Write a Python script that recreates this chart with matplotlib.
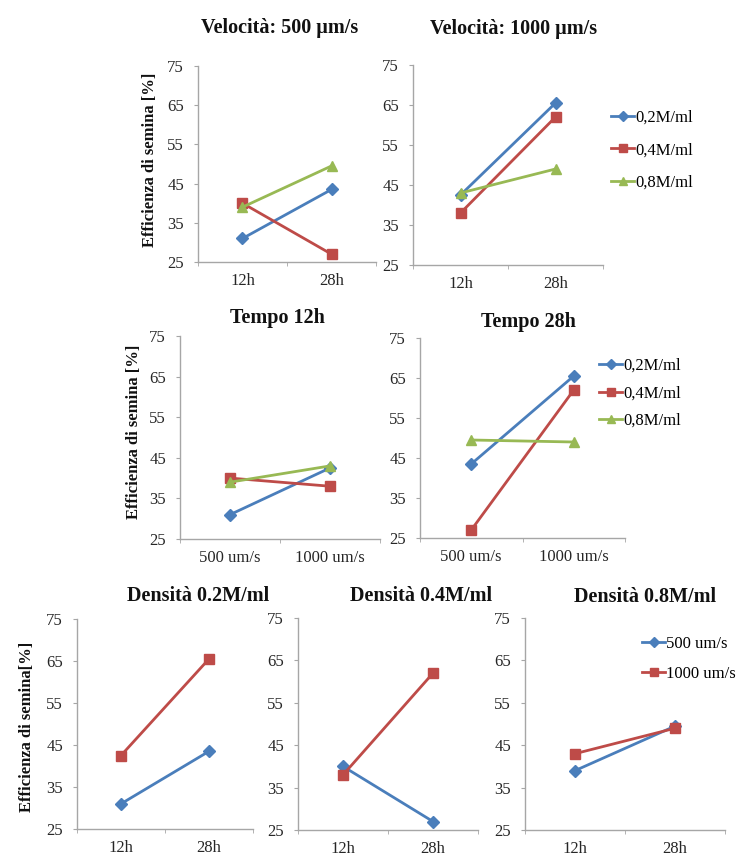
import matplotlib
matplotlib.use("Agg")
import matplotlib.pyplot as plt

# ---- data (Efficienza di semina [%]) ----
times = ["12h", "28h"]
speeds = ["500 um/s", "1000 um/s"]
densities = ["0,2M/ml", "0,4M/ml", "0,8M/ml"]

# speed 500 um/s : values at 12h, 28h for each density
v500_d02 = [31.0, 43.5]
v500_d04 = [40.0, 27.0]
v500_d08 = [39.0, 49.5]
# speed 1000 um/s
v1000_d02 = [42.5, 65.5]
v1000_d04 = [38.0, 62.0]
v1000_d08 = [43.0, 49.0]

W, H = 752, 861
plt.rcParams['font.family'] = ['Liberation Serif', 'DejaVu Serif']

fig = plt.figure(figsize=(W / 100, H / 100), dpi=100)
fig.patch.set_facecolor('white')

COLORS = ['#4a7ebb', '#be4b48', '#98b954']
MARKERS = ['D', 's', '^']
MSIZE = [6, 7, 7.5]
AXC = '#a6a6a6'
TXT = '#262626'
TICKFS = 12
TITLEFS = 14.5
LABFS = 12


def make_ax(x0, x1, y75, y25):
    ax = fig.add_axes([x0 / W, 1 - y25 / H, (x1 - x0) / W, (y25 - y75) / H])
    ax.set_xlim(-0.5, 1.5)
    ax.set_ylim(25, 75)
    ax.set_yticks([25, 35, 45, 55, 65, 75])
    ax.set_xticks([0, 1])
    ax.set_xticks([-0.5, 0.5, 1.5], minor=True)
    for s in ['top', 'right']:
        ax.spines[s].set_visible(False)
    for s in ['left', 'bottom']:
        ax.spines[s].set_color(AXC)
        ax.spines[s].set_linewidth(1.0)
    ax.tick_params(axis='y', length=3, color=AXC, labelsize=TICKFS, pad=7,
                   labelcolor=TXT)
    ax.tick_params(axis='x', which='major', length=0, labelsize=TICKFS, pad=8,
                   labelcolor=TXT)
    ax.tick_params(axis='x', which='minor', length=3, color=AXC)
    ax._px = (x0, x1, y75, y25)
    return ax


def plot_series(ax, series, labels, idxs):
    for vals, lab, i in zip(series, labels, idxs):
        ax.plot([0, 1], vals, color=COLORS[i], lw=2, marker=MARKERS[i],
                ms=MSIZE[i], label=lab)


def title(text, xc, yc):
    fig.text(xc / W, 1 - yc / H, text, ha='center', va='center',
             fontsize=TITLEFS, fontweight='bold', color='#111111')


def ylab(ax, text, xc, yc):
    x0, x1, y75, y25 = ax._px
    ax.set_ylabel(text, fontweight='bold', fontsize=LABFS, color='#111111')
    ax.yaxis.label.set_verticalalignment('center')
    ax.yaxis.set_label_coords((xc - x0) / (x1 - x0), (y25 - yc) / (y25 - y75))


def legend(ax, x, y, spacing):
    ax.legend(loc='upper left', bbox_to_anchor=(x / W, 1 - y / H),
              bbox_transform=fig.transFigure, frameon=False, fontsize=LABFS,
              handlelength=1.4, handletextpad=0.05, labelspacing=spacing,
              borderpad=0, borderaxespad=0, markerscale=0.8)


ylabel = "Efficienza di semina [%]"

# ---- row 1: by speed ----
ax1 = make_ax(198, 376, 66, 262)
plot_series(ax1, [v500_d02, v500_d04, v500_d08], densities, [0, 1, 2])
ax1.set_xticklabels(times)
title("Velocità: 500 µm/s", 280, 28)
ylab(ax1, ylabel, 150, 160)

ax2 = make_ax(413, 603, 65, 265)
plot_series(ax2, [v1000_d02, v1000_d04, v1000_d08], densities, [0, 1, 2])
ax2.set_xticklabels(times)
title("Velocità: 1000 µm/s", 514, 29)
legend(ax2, 611, 110, 0.97)

# ---- row 2: by time ----
ax3 = make_ax(180, 380, 336, 539)
plot_series(ax3, [[v500_d02[0], v1000_d02[0]], [v500_d04[0], v1000_d04[0]],
                  [v500_d08[0], v1000_d08[0]]], densities, [0, 1, 2])
ax3.set_xticklabels(speeds)
title("Tempo 12h", 277, 318)
ylab(ax3, ylabel, 134, 432)

ax4 = make_ax(420, 625, 338, 538)
plot_series(ax4, [[v500_d02[1], v1000_d02[1]], [v500_d04[1], v1000_d04[1]],
                  [v500_d08[1], v1000_d08[1]]], densities, [0, 1, 2])
ax4.set_xticklabels(speeds)
title("Tempo 28h", 528, 322)
legend(ax4, 599, 358, 0.68)

# ---- row 3: by density ----
ax5 = make_ax(77, 253, 619, 829)
plot_series(ax5, [v500_d02, v1000_d02], speeds, [0, 1])
ax5.set_xticklabels(times)
title("Densità 0.2M/ml", 198, 596)
ylab(ax5, "Efficienza di semina[%]", 27, 727)

ax6 = make_ax(298, 478, 618, 830)
plot_series(ax6, [v500_d04, v1000_d04], speeds, [0, 1])
ax6.set_xticklabels(times)
title("Densità 0.4M/ml", 421, 596)

ax7 = make_ax(525, 725, 618, 830)
plot_series(ax7, [v500_d08, v1000_d08], speeds, [0, 1])
ax7.set_xticklabels(times)
title("Densità 0.8M/ml", 645, 597)
legend(ax7, 642, 636, 0.85)

fig.savefig("out.png", dpi=100, facecolor='white')
